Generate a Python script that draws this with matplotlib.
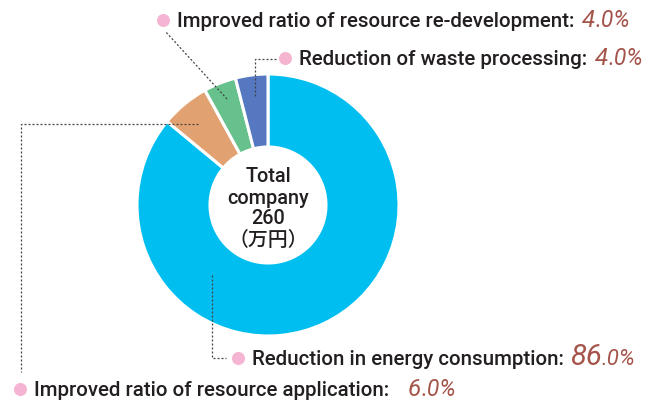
import matplotlib.pyplot as plt

plt.rcParams['font.family'] = ['Roboto', 'Noto Sans CJK JP', 'DejaVu Sans']

# データ
labels = ['Reduction in energy consumption:',
          'Improved ratio of resource application:',
          'Improved ratio of resource re-development:',
          'Reduction of waste processing:']
shares = [86.0, 6.0, 4.0, 4.0]
colors = ['#00BEF0', '#E2A170', '#66C18C', '#5578C0']
center_lines = ['Total', 'company', '260', '（万円）']

text_col = '#231F20'
pct_col = '#A5544A'
dot_col = '#F5B5D2'
line_col = '#444444'

fig = plt.figure(figsize=(6.61, 4.01), dpi=100)
ax = fig.add_axes([0, 0, 1, 1])
ax.set_xlim(0, 661)
ax.set_ylim(401, 0)
ax.set_aspect('equal')
ax.axis('off')

cx, cy, R = 268, 205, 131
ax.pie(shares, colors=colors, center=(cx, cy), radius=R, startangle=-90,
       counterclock=True, wedgeprops=dict(width=R - 58, edgecolor='white', linewidth=2.2))
ax.set_xlim(0, 661)
ax.set_ylim(401, 0)

# 中心の文字
for i, s in enumerate(center_lines):
    ax.text(cx, 177 + i * 21, s, ha='center', va='center', fontsize=14.3,
            fontweight='medium', color=text_col)

# 引き出し線
dots = dict(color=line_col, lw=0.9, ls=(0, (1.6, 1.6)))
ax.plot([212, 212, 226], [275, 358, 358], **dots)
ax.plot([198, 21, 21], [124, 124, 372], **dots)
ax.plot([227, 165], [99, 31], **dots)
ax.plot([255, 255, 277], [96, 59, 59], **dots)

renderer = fig.canvas.get_renderer()


def right_edge(t):
    bb = t.get_window_extent(renderer).transformed(ax.transData.inverted())
    return max(bb.x0, bb.x1)


def label(x, y, name, share, gap=8, big=17, small=15.5):
    ax.scatter([x], [y], s=88, color=dot_col, zorder=5, linewidths=0)
    base = y + 7
    t = ax.text(x + 14, base, name, ha='left', va='baseline', fontsize=14.8,
                fontweight='medium', color=text_col)
    whole, frac = f'{share:.1f}%'.split('.')
    t2 = ax.text(right_edge(t) + gap, base, whole, ha='left', va='baseline',
                 fontsize=big, style='italic', color=pct_col)
    ax.text(right_edge(t2), base, '.' + frac, ha='left', va='baseline',
            fontsize=small, style='italic', color=pct_col)


label(238, 358, labels[0], shares[0], gap=6, big=21, small=16)
label(20, 389, labels[1], shares[1], gap=19, big=17.5, small=16.5)
label(163, 20, labels[2], shares[2], big=17.5, small=16.5)
label(285, 58, labels[3], shares[3], big=17.5, small=16.5)

fig.savefig('out.png', dpi=100)
